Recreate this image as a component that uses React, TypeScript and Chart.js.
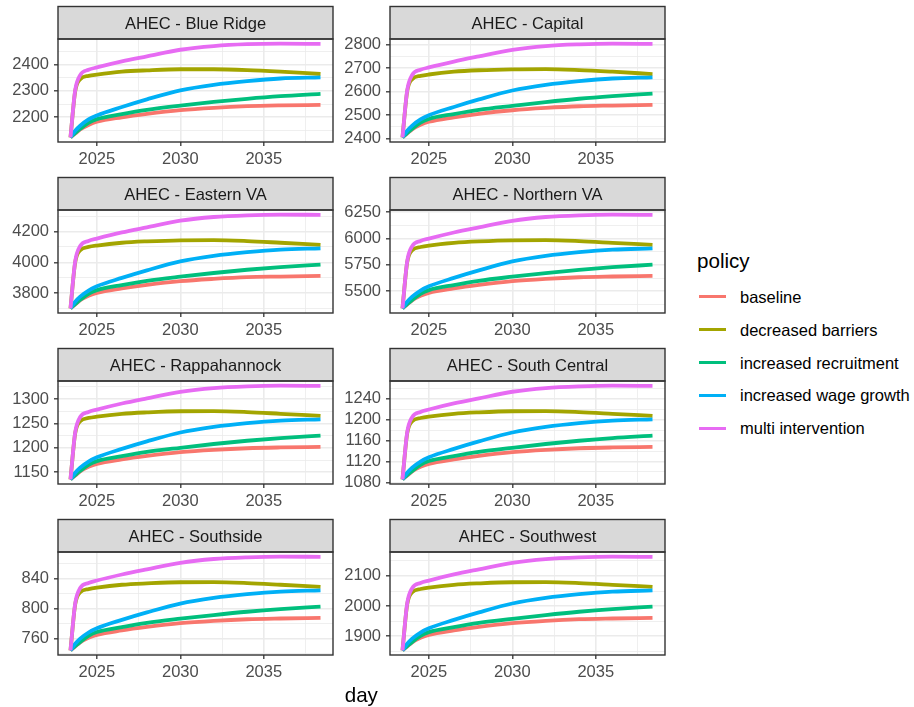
import React, { useEffect, useRef } from "react";
import { Chart, registerables } from "chart.js";

Chart.register(...registerables);

// Simulation time axis (decimal years)
const years = [2023.42, 2023.7, 2024.0, 2024.5, 2025, 2026.5, 2028, 2030, 2032, 2034, 2036, 2038.4];
const xTicks = [2025, 2030, 2035];

const policies = [
  "baseline",
  "decreased barriers",
  "increased recruitment",
  "increased wage growth",
  "multi intervention",
];
const policyColors = ["#F8766D", "#A3A500", "#00BF7D", "#00B0F6", "#E76BF3"];

// Workforce per region; rows follow the order of `policies`
const blueRidge = [
  [2124, 2138, 2154, 2171, 2183, 2200, 2213, 2227, 2236, 2242, 2245, 2247],
  [2124, 2298, 2344, 2357, 2362, 2373, 2378, 2382, 2382, 2379, 2373, 2364],
  [2124, 2140, 2156, 2179, 2193, 2212, 2228, 2244, 2258, 2270, 2280, 2289],
  [2124, 2149, 2168, 2192, 2207, 2239, 2268, 2302, 2323, 2337, 2347, 2351],
  [2124, 2302, 2360, 2380, 2389, 2412, 2431, 2456, 2470, 2477, 2479, 2478],
];
const blueRidgeTicks = [2200, 2300, 2400];

const capital = [
  [2406, 2422, 2440, 2459, 2472, 2491, 2506, 2521, 2531, 2538, 2541, 2544],
  [2406, 2601, 2653, 2667, 2673, 2685, 2691, 2695, 2696, 2692, 2685, 2675],
  [2406, 2424, 2442, 2468, 2484, 2505, 2523, 2540, 2556, 2570, 2581, 2592],
  [2406, 2434, 2456, 2482, 2500, 2535, 2567, 2605, 2629, 2645, 2656, 2661],
  [2406, 2605, 2671, 2693, 2703, 2728, 2750, 2778, 2794, 2801, 2804, 2803],
];
const capitalTicks = [2400, 2500, 2600, 2700, 2800];

const easternVA = [
  [3702, 3726, 3754, 3783, 3802, 3831, 3854, 3878, 3893, 3904, 3908, 3912],
  [3702, 3999, 4078, 4100, 4109, 4127, 4136, 4143, 4144, 4138, 4127, 4113],
  [3702, 3729, 3757, 3796, 3820, 3853, 3880, 3907, 3931, 3952, 3969, 3985],
  [3702, 3745, 3778, 3817, 3845, 3899, 3948, 4006, 4042, 4066, 4083, 4091],
  [3702, 4006, 4106, 4139, 4154, 4194, 4227, 4270, 4294, 4305, 4309, 4308],
];
const easternVATicks = [3800, 4000, 4200];

const northernVA = [
  [5338, 5374, 5414, 5456, 5485, 5527, 5560, 5596, 5618, 5633, 5640, 5646],
  [5338, 5774, 5889, 5920, 5934, 5960, 5974, 5984, 5985, 5976, 5960, 5940],
  [5338, 5378, 5418, 5476, 5511, 5559, 5599, 5638, 5673, 5704, 5729, 5752],
  [5338, 5400, 5449, 5507, 5547, 5627, 5698, 5783, 5836, 5871, 5895, 5907],
  [5338, 5783, 5929, 5978, 6000, 6058, 6107, 6169, 6205, 6221, 6227, 6225],
];
const northernVATicks = [5500, 5750, 6000, 6250];

const rappahannock = [
  [1135.5, 1143.2, 1151.8, 1161.0, 1167.2, 1176.4, 1183.5, 1191.2, 1196.0, 1199.2, 1200.8, 1201.9],
  [1135.5, 1229.6, 1254.5, 1261.3, 1264.1, 1269.9, 1272.8, 1275.1, 1275.3, 1273.4, 1269.9, 1265.5],
  [1135.5, 1144.1, 1152.8, 1165.3, 1172.9, 1183.1, 1191.8, 1200.2, 1207.9, 1214.6, 1220.0, 1225.0],
  [1135.5, 1148.9, 1159.5, 1172.0, 1180.6, 1197.9, 1213.3, 1231.5, 1243.0, 1250.7, 1255.9, 1258.4],
  [1135.5, 1231.5, 1263.2, 1273.7, 1278.5, 1291.0, 1301.6, 1315.0, 1322.7, 1326.2, 1327.5, 1327.1],
];
const rappahannockTicks = [1150, 1200, 1250, 1300];

const southCentral = [
  [1086, 1093.2, 1101.2, 1109.8, 1115.5, 1124.1, 1130.8, 1137.9, 1142.4, 1145.4, 1146.9, 1147.9],
  [1086, 1173.7, 1197.0, 1203.2, 1205.9, 1211.3, 1214.0, 1216.1, 1216.3, 1214.5, 1211.3, 1207.2],
  [1086, 1094.1, 1102.1, 1113.7, 1120.9, 1130.4, 1138.4, 1146.3, 1153.5, 1159.7, 1164.8, 1169.4],
  [1086, 1098.5, 1108.4, 1120.0, 1128.1, 1144.2, 1158.5, 1175.5, 1186.2, 1193.4, 1198.2, 1200.6],
  [1086, 1175.5, 1205.0, 1214.9, 1219.4, 1231.0, 1240.8, 1253.4, 1260.5, 1263.7, 1265.0, 1264.6],
];
const southCentralTicks = [1080, 1120, 1160, 1200, 1240];

const southside = [
  [744.7, 749.7, 755.3, 761.3, 765.2, 771.2, 775.8, 780.8, 783.9, 786.0, 787.0, 787.8],
  [744.7, 805.7, 821.9, 826.2, 828.1, 831.9, 833.7, 835.2, 835.3, 834.1, 831.9, 829.0],
  [744.7, 750.3, 755.9, 764.0, 769.0, 775.6, 781.2, 786.7, 791.6, 796.0, 799.5, 802.7],
  [744.7, 753.4, 760.3, 768.4, 774.0, 785.2, 795.1, 806.9, 814.4, 819.4, 822.8, 824.4],
  [744.7, 806.9, 827.5, 834.3, 837.5, 845.5, 852.4, 861.1, 866.1, 868.3, 869.2, 869.0],
];
const southsideTicks = [760, 800, 840];

const southwest = [
  [1853, 1865.4, 1879.4, 1894.4, 1904.3, 1919.2, 1930.8, 1943.2, 1951.0, 1956.3, 1958.7, 1960.6],
  [1853, 2005.4, 2045.8, 2056.7, 2061.4, 2070.7, 2075.4, 2079.1, 2079.4, 2076.3, 2070.7, 2063.5],
  [1853, 1867.0, 1881.0, 1901.2, 1913.6, 1930.1, 1944.1, 1957.8, 1970.2, 1981.1, 1989.8, 1997.9],
  [1853, 1874.8, 1891.9, 1912.1, 1926.1, 1954.1, 1979.0, 2008.5, 2027.2, 2039.6, 2048.0, 2052.0],
  [1853, 2008.5, 2059.8, 2076.9, 2084.7, 2104.9, 2122.0, 2143.8, 2156.2, 2161.8, 2164.0, 2163.4],
];
const southwestTicks = [1900, 2000, 2100];

const regions = [
  { title: "AHEC - Blue Ridge", series: blueRidge, ticks: blueRidgeTicks },
  { title: "AHEC - Capital", series: capital, ticks: capitalTicks },
  { title: "AHEC - Eastern VA", series: easternVA, ticks: easternVATicks },
  { title: "AHEC - Northern VA", series: northernVA, ticks: northernVATicks },
  { title: "AHEC - Rappahannock", series: rappahannock, ticks: rappahannockTicks },
  { title: "AHEC - South Central", series: southCentral, ticks: southCentralTicks },
  { title: "AHEC - Southside", series: southside, ticks: southsideTicks },
  { title: "AHEC - Southwest", series: southwest, ticks: southwestTicks },
];

const FONT = '"Liberation Sans", Arial, Helvetica, sans-serif';
const TICK_SIZE = 16.5;
const STRIP_H = 32.5;
const PAD_TOP = 36;
const PLOT_H = 103;
const XAXIS_H = 30;
const YAXIS_W = 58;
const CANVAS_W = 340;
const CANVAS_H = PAD_TOP + PLOT_H + XAXIS_H;

// major breaks plus mid-point minor breaks, limited to the visible range
function withMinor(major: number[], min: number, max: number) {
  const step = major.length > 1 ? major[1] - major[0] : 1;
  const minors: number[] = [major[0] - step / 2];
  for (let i = 0; i < major.length; i++) minors.push(major[i] + step / 2);
  const all = [
    ...major.map((v) => ({ value: v, minor: false })),
    ...minors.map((v) => ({ value: v, minor: true })),
  ];
  return all.filter((t) => t.value >= min && t.value <= max).sort((a, b) => a.value - b.value);
}

// facet strip above the panel and the panel frame
const stripPlugin = {
  id: "strip",
  afterDraw(chart: any, _args: any, opts: any) {
    const { ctx, chartArea } = chart;
    const { left, right, top, bottom } = chartArea;
    ctx.save();
    ctx.fillStyle = "#D9D9D9";
    ctx.fillRect(left, top - STRIP_H, right - left, STRIP_H);
    ctx.strokeStyle = "#333333";
    ctx.lineWidth = 1.4;
    ctx.strokeRect(left, top - STRIP_H, right - left, STRIP_H);
    ctx.strokeRect(left, top, right - left, bottom - top);
    ctx.fillStyle = "#1A1A1A";
    ctx.font = `${TICK_SIZE}px ${FONT}`;
    ctx.textAlign = "center";
    ctx.textBaseline = "alphabetic";
    ctx.fillText(opts.title, (left + right) / 2, top - 9.7);
    ctx.restore();
  },
};

const gridWidth = (c: any) => (c.tick && c.tick.minor ? 0.8 : 1.6);
const tickColor = (c: any) => (c.tick && c.tick.minor ? "rgba(0,0,0,0)" : "#333333");
const tickLabel = (v: any, i: number, t: any[]) => (t[i] && t[i].minor ? "" : String(v));

function Panel({ region, left, top }: { region: any; left: number; top: number }) {
  const ref = useRef<HTMLCanvasElement>(null);
  useEffect(() => {
    if (!ref.current) return;
    const all = region.series.flat();
    const lo = Math.min(...all);
    const hi = Math.max(...all);
    const yPad = (hi - lo) * 0.05;
    const x0 = years[0];
    const x1 = years[years.length - 1];
    const xPad = (x1 - x0) * 0.05;
    const n = region.series.length;

    const chart = new Chart(ref.current, {
      type: "line",
      data: {
        datasets: region.series.map((vals: number[], i: number) => ({
          label: policies[i],
          data: vals.map((y, j) => ({ x: years[j], y })),
          borderColor: policyColors[i],
          backgroundColor: policyColors[i],
          borderWidth: 3.8,
          pointRadius: 0,
          cubicInterpolationMode: "monotone",
          fill: false,
          order: n - 1 - i,
        })),
      },
      options: {
        responsive: false,
        animation: false,
        devicePixelRatio: 1,
        layout: { padding: { top: PAD_TOP, right: 7, left: 0, bottom: 0 } },
        plugins: {
          legend: { display: false },
          tooltip: { enabled: false },
          strip: { title: region.title },
        } as any,
        scales: {
          x: {
            type: "linear",
            min: x0 - xPad,
            max: x1 + xPad,
            afterBuildTicks: (s: any) => {
              s.ticks = withMinor(xTicks, s.min, s.max);
            },
            afterFit: (s: any) => {
              s.height = XAXIS_H;
            },
            border: { display: false },
            grid: {
              color: "#EBEBEB",
              lineWidth: gridWidth,
              tickColor,
              tickLength: 4,
              tickWidth: 1.3,
            },
            ticks: {
              autoSkip: false,
              maxRotation: 0,
              padding: 4,
              color: "#4D4D4D",
              font: { family: FONT, size: TICK_SIZE },
              callback: tickLabel,
            },
          },
          y: {
            type: "linear",
            min: lo - yPad,
            max: hi + yPad,
            afterBuildTicks: (s: any) => {
              s.ticks = withMinor(region.ticks, s.min, s.max);
            },
            afterFit: (s: any) => {
              s.width = YAXIS_W;
            },
            border: { display: false },
            grid: {
              color: "#EBEBEB",
              lineWidth: gridWidth,
              tickColor,
              tickLength: 4,
              tickWidth: 1.3,
            },
            ticks: {
              autoSkip: false,
              padding: 5,
              color: "#4D4D4D",
              font: { family: FONT, size: TICK_SIZE },
              callback: tickLabel,
            },
          },
        },
      } as any,
      plugins: [stripPlugin],
    });
    return () => chart.destroy();
  }, [region]);

  return (
    <canvas
      ref={ref}
      width={CANVAS_W}
      height={CANVAS_H}
      style={{ position: "absolute", left, top, width: CANVAS_W, height: CANVAS_H }}
    />
  );
}

const legendCenters = [296.7, 329.6, 362.5, 395.4, 428.3];

export default function App() {
  return (
    <div
      style={{
        position: "absolute",
        left: 0,
        top: 0,
        width: 914,
        height: 707,
        background: "#FFFFFF",
        fontFamily: FONT,
        overflow: "hidden",
      }}
    >
      {regions.map((r, i) => {
        const col = i % 2;
        const row = Math.floor(i / 2);
        const plotTop = 39 + row * 171;
        return (
          <Panel key={r.title} region={r} left={col === 0 ? 0 : 332} top={plotTop - PAD_TOP} />
        );
      })}

      <div
        style={{
          position: "absolute",
          left: 361.3,
          top: 683,
          transform: "translateX(-50%)",
          fontSize: 20.6,
          lineHeight: "24px",
          color: "#000000",
          whiteSpace: "nowrap",
        }}
      >
        day
      </div>

      <div
        style={{
          position: "absolute",
          left: 697,
          top: 249,
          fontSize: 20.6,
          lineHeight: "24px",
          color: "#000000",
        }}
      >
        policy
      </div>
      {policies.map((p, i) => (
        <React.Fragment key={p}>
          <div
            style={{
              position: "absolute",
              left: 699,
              top: legendCenters[i] - 1.8,
              width: 27,
              height: 3.6,
              background: policyColors[i],
            }}
          />
          <div
            style={{
              position: "absolute",
              left: 740,
              top: legendCenters[i] - 10,
              fontSize: 16.5,
              lineHeight: "20px",
              color: "#000000",
              whiteSpace: "nowrap",
            }}
          >
            {p}
          </div>
        </React.Fragment>
      ))}
    </div>
  );
}
